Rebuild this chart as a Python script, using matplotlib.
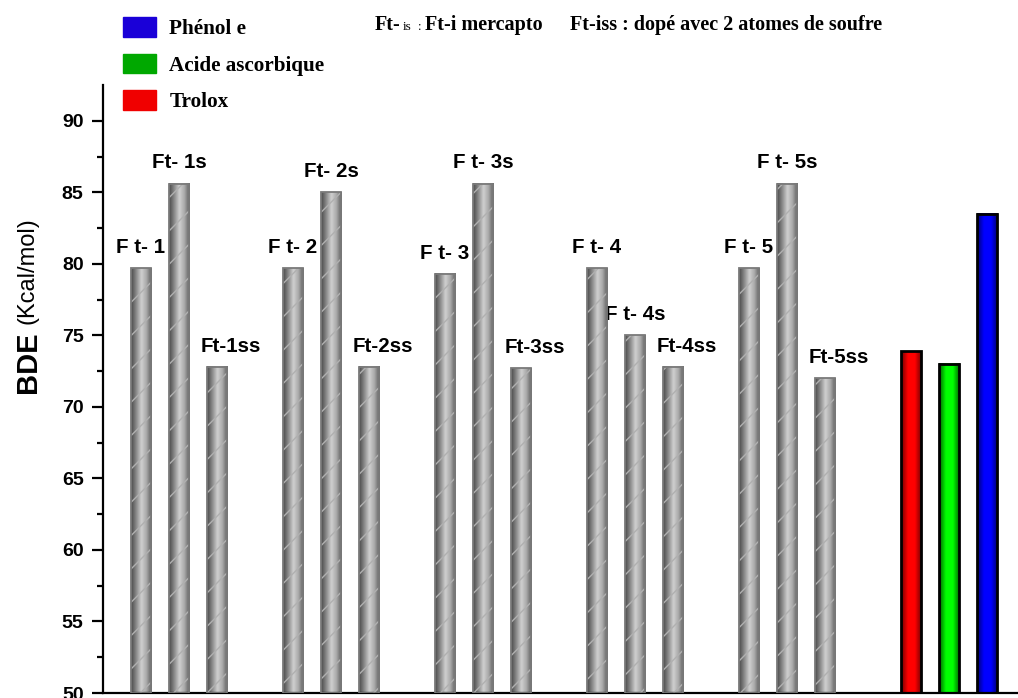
import numpy as np
import matplotlib
matplotlib.use('Agg')
import matplotlib.pyplot as plt
from matplotlib.patches import Patch
from matplotlib.colors import LinearSegmentedColormap

# data
ft_labels = ['F t- 1', 'Ft- 1s', 'Ft-1ss',
             'F t- 2', 'Ft- 2s', 'Ft-2ss',
             'F t- 3', 'F t- 3s', 'Ft-3ss',
             'F t- 4', 'F t- 4s', 'Ft-4ss',
             'F t- 5', 'F t- 5s', 'Ft-5ss']
ft_bde = [79.7, 85.6, 72.8,
          79.7, 85.0, 72.8,
          79.3, 85.6, 72.7,
          79.7, 75.0, 72.8,
          79.7, 85.6, 72.0]
ref_names = ['Trolox', 'Acide ascorbique', 'Phénol e']
ref_bde = [73.9, 73.0, 83.5]
ref_colors = ['#ff0000', '#00ff00', '#0000ff']
ref_dark = ['#700000', '#006000', '#000070']
legend_colors = ['#1a00d8', '#00a800', '#f00000']

sans = 'Liberation Sans'
serif = 'Liberation Serif'

fig = plt.figure(figsize=(10.18, 6.98), dpi=100)
ax = fig.add_axes([103/1018, 5/698, 915/1018, 608/698])

# x positions: 5 groups of 3, then the 3 references
xs = []
for g in range(5):
    for k in range(3):
        xs.append(1 + 4*g + k)
xs = np.array(xs, dtype=float)
xr = 21.27 + np.arange(3)
w = 0.53
y0 = 50

gray_cmap = LinearSegmentedColormap.from_list(
    'cyl', ['#4a4a4a', '#8a8a8a', '#d0d0d0', '#a8a8a8', '#5a5a5a'])

bars = ax.bar(xs, np.array(ft_bde) - y0, width=w, bottom=y0,
              facecolor='none', edgecolor='#7a7a7a', linewidth=1.3, zorder=4)
grad = np.linspace(0, 1, 64).reshape(1, -1)
for b in bars:
    x0 = b.get_x()
    ax.imshow(grad, extent=[x0, x0 + b.get_width(), y0, y0 + b.get_height()],
              aspect='auto', cmap=gray_cmap, clip_path=b, zorder=2,
              interpolation='bilinear')
plt.rcParams['hatch.linewidth'] = 1.0
ax.bar(xs, np.array(ft_bde) - y0, width=w, bottom=y0, facecolor='none',
       edgecolor='#b0b0b0', linewidth=0, hatch='/', zorder=3)

for x, v, lab in zip(xs, ft_bde, ft_labels):
    dx = 10 if lab.endswith('ss') else 0
    ax.annotate(lab, (x, v), xytext=(dx, 11), textcoords='offset points',
                ha='center', va='baseline', fontsize=14.8,
                fontweight='bold', family=sans)

# reference compounds
rbars = ax.bar(xr, np.array(ref_bde) - y0, width=w, bottom=y0,
               facecolor='none', edgecolor='black', linewidth=2, zorder=4)
for b, c, d in zip(rbars, ref_colors, ref_dark):
    cm = LinearSegmentedColormap.from_list('c', [d, c, c, d])
    x0 = b.get_x()
    ax.imshow(grad, extent=[x0, x0 + b.get_width(), y0, y0 + b.get_height()],
              aspect='auto', cmap=cm, clip_path=b, zorder=2,
              interpolation='bilinear')

ax.set_xlim(0, 24.08)
ax.set_ylim(50, 92.5)
ax.set_yticks(np.arange(50, 91, 5))
ax.set_yticks(np.arange(52.5, 92.5, 5), minor=True)
ax.set_xticks([])
for s in ['top', 'right']:
    ax.spines[s].set_visible(False)
for s in ['left', 'bottom']:
    ax.spines[s].set_linewidth(1.6)
ax.tick_params(axis='y', which='major', length=8, width=1.6, direction='out', pad=6)
ax.tick_params(axis='y', which='minor', length=4, width=1.6, direction='out')
for t in ax.get_yticklabels():
    t.set_fontsize(14)
    t.set_fontweight('bold')
    t.set_family(sans)

# y label in two parts
fig.text(28/1018, 1 - 362/698, 'BDE', rotation=90, ha='center', va='center',
         fontsize=21, fontweight='bold', family=sans)
fig.text(28/1018, 1 - 271/698, '(Kcal/mol)', rotation=90, ha='center',
         va='center', fontsize=17, family=sans)

# legend
handles = [Patch(facecolor=c, edgecolor=c) for c in legend_colors]
fig.legend(handles, ref_names[::-1], loc='upper left',
           bbox_to_anchor=(115/1018, 1 - 9/698), frameon=False,
           prop={'family': serif, 'weight': 'bold', 'size': 15.2},
           handlelength=1.55, handleheight=1.05, labelspacing=0.68,
           handletextpad=0.62, borderaxespad=0)

# note at the top
ty = 1 - 30/698
fig.text(375/1018, ty, 'Ft-', fontsize=14.5, fontweight='bold', family=serif)
fig.text(403/1018, ty, 'is', fontsize=9.5, family=serif)
fig.text(418/1018, ty, ':', fontsize=9.5, family=serif)
fig.text(425/1018, ty, 'Ft-i mercapto', fontsize=14.5, fontweight='bold', family=serif)
fig.text(570/1018, ty, 'Ft-iss : dopé avec 2 atomes de soufre', fontsize=14.5,
         fontweight='bold', family=serif)

plt.savefig('out.png', dpi=100)
